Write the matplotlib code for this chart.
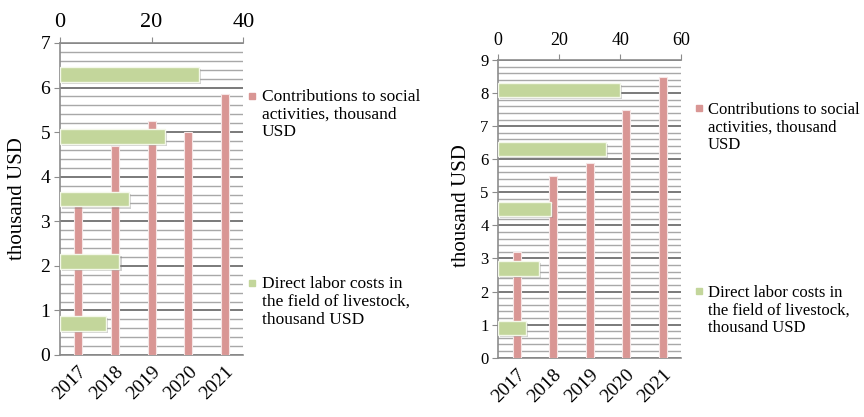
import matplotlib
matplotlib.use("Agg")
import matplotlib.pyplot as plt
import matplotlib.patheffects as pe
from matplotlib.lines import Line2D
from matplotlib.ticker import MultipleLocator

plt.rcParams['font.family'] = ['Liberation Serif', 'DejaVu Serif']

# ---- data ----
years = ['2017', '2018', '2019', '2020', '2021']

# panel A
contrib_a = [3.5, 4.7, 5.25, 5.0, 5.85]      # thousand USD (left axis)
labor_a = [10, 13, 15, 23, 30.3]             # thousand USD (top axis)
# panel B
contrib_b = [3.2, 5.5, 5.9, 7.5, 8.5]
labor_b = [9, 13.4, 17.3, 35.3, 40]

contrib_label = 'Contributions to social\nactivities, thousand\nUSD'
labor_label = 'Direct labor costs in\nthe field of livestock,\nthousand USD'

PINK = '#d99694'
GREEN = '#c3d69b'
GRID_MINOR = '#a8a8a8'
GRID_MAJOR = '#7a7a7a'
SPINE = '#8c8c8c'

fig = plt.figure(figsize=(8.64, 4.17), dpi=100)


def panel(rect, contrib, labor, ymax, xmax, xstep, ytick_fs, xtop_fs, ylab_xy,
          pink_leg, green_leg, leg_fs):
    ax = fig.add_axes(rect)
    pos = range(len(years))
    ax.bar(pos, contrib, width=0.22, color=PINK, edgecolor='#f6e6e6',
           linewidth=0.8, zorder=3)
    ax.set_xlim(-0.5, len(years) - 0.5)
    ax.set_ylim(0, ymax)
    ax.yaxis.set_major_locator(MultipleLocator(1))
    ax.yaxis.set_minor_locator(MultipleLocator(0.2))
    ax.grid(axis='y', which='major', color=GRID_MAJOR, linewidth=1.4, zorder=1)
    ax.grid(axis='y', which='minor', color=GRID_MINOR, linewidth=1.0, zorder=1)
    ax.set_axisbelow(True)
    ax.set_xticks(list(pos))
    ax.set_xticklabels(years, rotation=45, ha='right', va='top',
                       rotation_mode='anchor', fontsize=14)
    ax.tick_params(axis='x', length=0, pad=6)
    ax.tick_params(axis='y', which='major', length=4, color=SPINE,
                   labelsize=ytick_fs, pad=3, direction='out')
    ax.tick_params(axis='y', which='minor', length=0)
    for s in ('top', 'right'):
        ax.spines[s].set_visible(False)
    for s in ('left', 'bottom'):
        ax.spines[s].set_color(SPINE)
        ax.spines[s].set_linewidth(1.2)
    ax.set_ylabel('thousand USD', fontsize=15)
    ax.yaxis.set_label_coords(*ylab_xy)

    # horizontal bars on their own categorical scale, value axis on top
    axh = fig.add_axes(rect)
    axh.patch.set_visible(False)
    bars = axh.barh(range(len(years)), labor, height=0.24, color=GREEN,
                    edgecolor='#f4f8ea', linewidth=1.0, zorder=4)
    for b in bars:
        b.set_path_effects([pe.SimplePatchShadow(offset=(1.5, -1.5),
                                                 shadow_rgbFace='#7f7f7f',
                                                 alpha=0.35),
                            pe.Normal()])
    axh.set_ylim(-0.5, len(years) - 0.5)
    axh.set_xlim(0, xmax)
    axh.xaxis.set_major_locator(MultipleLocator(xstep))
    axh.xaxis.tick_top()
    axh.tick_params(axis='x', length=4, color=SPINE, labelsize=xtop_fs,
                    pad=4, direction='out')
    axh.set_yticks([])
    for s in ('bottom', 'right', 'left'):
        axh.spines[s].set_visible(False)
    axh.spines['top'].set_color(SPINE)
    axh.spines['top'].set_linewidth(1.2)

    for color, label, anchor in ((PINK, contrib_label, pink_leg),
                                 (GREEN, labor_label, green_leg)):
        h = Line2D([], [], marker='s', linestyle='none', markersize=4.5,
                   color=color)
        leg = fig.legend([h], [label], loc='upper left',
                         bbox_to_anchor=anchor, frameon=False, fontsize=leg_fs,
                         handlelength=0.5, handleheight=1.0,
                         handletextpad=0.3, borderpad=0, borderaxespad=0)
        for t in leg.get_texts():
            t.set_linespacing(1.15)
        # put the marker beside the first line of the label
        for col in leg._legend_handle_box.get_children():
            for item in col.get_children():
                item.align = 'top'
    return ax, axh


panel([0.0692, 0.1487, 0.2125, 0.7482], contrib_a, labor_a, 7, 40, 20,
      14, 16, (-0.18, 0.5), (0.2870, 0.7870), (0.2870, 0.3380), 12.5)
panel([0.5767, 0.1422, 0.2115, 0.7139], contrib_b, labor_b, 9, 60, 20,
      12, 13, (-0.15, 0.51), (0.8040, 0.7560), (0.8040, 0.3170), 12)

fig.savefig('out.png', dpi=100)
